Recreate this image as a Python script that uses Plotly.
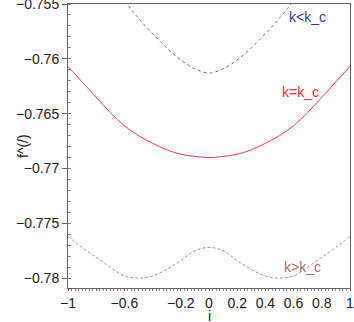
import plotly.graph_objects as go

# values
x_low = [-0.6, -0.5, -0.4, -0.3, -0.2, -0.1, 0.0, 0.1, 0.2, 0.3, 0.4, 0.5, 0.6]
f_low = [-0.7547, -0.7563, -0.7577, -0.7590, -0.7601, -0.7609, -0.7613,
         -0.7609, -0.7601, -0.7590, -0.7577, -0.7563, -0.7547]

x_full = [-1.0, -0.9, -0.8, -0.7, -0.6, -0.5, -0.4, -0.3, -0.2, -0.1, 0.0,
          0.1, 0.2, 0.3, 0.4, 0.5, 0.6, 0.7, 0.8, 0.9, 1.0]
f_crit = [-0.7607, -0.7621, -0.7635, -0.7649, -0.7661, -0.7670, -0.7677, -0.7683, -0.7687, -0.7689, -0.7690,
          -0.7689, -0.7687, -0.7683, -0.7677, -0.7670, -0.7661, -0.7649, -0.7635, -0.7621, -0.7607]
f_high = [-0.7762, -0.7772, -0.7781, -0.7790, -0.7798, -0.7800, -0.7798, -0.7792, -0.7784, -0.7775, -0.7772,
          -0.7775, -0.7784, -0.7792, -0.7798, -0.7800, -0.7798, -0.7790, -0.7781, -0.7772, -0.7762]

x_ticks = [-1, -0.8, -0.6, -0.4, -0.2, 0, 0.2, 0.4, 0.6, 0.8, 1]
x_ticktext = ["\u22121", "", "\u22120.6", "", "\u22120.2", "0", "0.2", "0.4", "0.6", "0.8", "1"]
y_ticks = [-0.78, -0.775, -0.77, -0.765, -0.76, -0.755]
y_ticktext = ["\u22120.78", "\u22120.775", "\u22120.77", "\u22120.765", "\u22120.76", "\u22120.755"]

fig = go.Figure()
fig.add_trace(go.Scatter(x=x_low, y=f_low, mode="lines", line_shape="spline",
                         line=dict(color="#6a6ab8", width=1, dash="dot")))
fig.add_trace(go.Scatter(x=x_full, y=f_crit, mode="lines", line_shape="spline",
                         line=dict(color="#f0404c", width=1)))
fig.add_trace(go.Scatter(x=x_full, y=f_high, mode="lines", line_shape="spline",
                         line=dict(color="#c8887a", width=1, dash="3px,2px")))

# curve labels
fig.add_annotation(x=0.55, y=-0.7562, text="k<k_c", showarrow=False, xanchor="left",
                   font=dict(color="#3a3a9a", size=14))
fig.add_annotation(x=0.5, y=-0.7630, text="k=k_c", showarrow=False, xanchor="left",
                   font=dict(color="#e8303a", size=14))
fig.add_annotation(x=0.52, y=-0.7790, text="k>k_c", showarrow=False, xanchor="left",
                   font=dict(color="#b07060", size=14))

# axis titles
fig.add_annotation(x=0, xref="x", y=0, yref="paper", yanchor="middle", yshift=-28,
                   text="i", showarrow=False, font=dict(size=14))
fig.add_annotation(x=0, xref="paper", xshift=-55, y=0.5, yref="paper", textangle=-90,
                   text="f^(/)", showarrow=False, font=dict(size=14))

fig.update_layout(
    width=354, height=322,
    margin=dict(l=68, r=4, t=4, b=34, autoexpand=False),
    plot_bgcolor="white", paper_bgcolor="white",
    showlegend=False,
    font=dict(family="Liberation Sans, Arial, sans-serif", size=14, color="#222"),
)
fig.update_xaxes(range=[-1, 1], tickvals=x_ticks, ticktext=x_ticktext, automargin=False,
                 ticklabeloverflow="allow",
                 showgrid=False, zeroline=False, showline=True, mirror=True,
                 linecolor="#666", linewidth=1, ticks="outside", ticklen=2, tickcolor="#666",
                 minor=dict(dtick=0.025, ticks="outside", ticklen=2, tickcolor="#888"))
fig.update_yaxes(range=[-0.7809, -0.755], tickvals=y_ticks, ticktext=y_ticktext, automargin=False,
                 ticklabeloverflow="allow",
                 showgrid=False, zeroline=False, showline=True, mirror=True,
                 linecolor="#666", linewidth=1, ticks="outside", ticklen=5, tickcolor="#666",
                 minor=dict(dtick=0.001, ticks="inside", ticklen=3, tickcolor="#888"))

fig.write_html("out.html", config={"displayModeBar": False},
               post_script="document.body.style.margin='0';")
